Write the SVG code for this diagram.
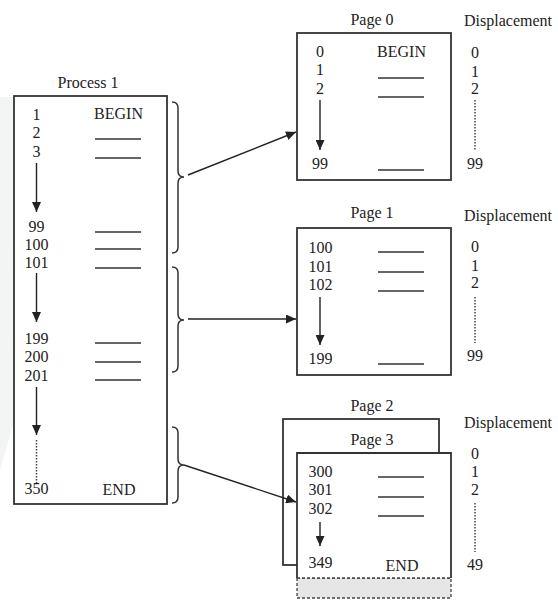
<svg xmlns="http://www.w3.org/2000/svg" width="558" height="605" viewBox="0 0 558 605">
  <style>
    .t{font-family:"Liberation Serif","Times New Roman",serif;font-size:16px;fill:#222}
    .m{text-anchor:middle}
    .box{fill:#fff;stroke:#333;stroke-width:1.8}
    .dash{stroke:#333;stroke-width:1.5}
    .ln{stroke:#222;stroke-width:1.4;fill:none}
    .dot{stroke:#444;stroke-width:1.5;stroke-dasharray:1.5 1.5;fill:none}
    .br{stroke:#333;stroke-width:1.5;fill:none}
  </style>
  <defs>
    <marker id="ah" markerUnits="userSpaceOnUse" markerWidth="11" markerHeight="9" refX="10" refY="4.5" orient="auto">
      <path d="M0,0 L10,4.5 L0,9 Z" fill="#222"/>
    </marker>
  </defs>
  <rect width="558" height="605" fill="#fff"/>
  <polygon points="0,97 13,97 13,425 0,470" fill="#f3f4f4"/>

  <g id="process1">
    <text class="t m" x="88" y="88">Process 1</text>
    <rect class="box" x="14" y="96" width="153" height="408"/>
    <g class="t m">
      <text x="36.5" y="120">1</text>
      <text x="36.5" y="138">2</text>
      <text x="36.5" y="157">3</text>
      <text x="36.5" y="232">99</text>
      <text x="36.5" y="250">100</text>
      <text x="36.5" y="268">101</text>
      <text x="36.5" y="344">199</text>
      <text x="36.5" y="362">200</text>
      <text x="36.5" y="381">201</text>
      <text x="36.5" y="494">350</text>
      <text x="118.5" y="119">BEGIN</text>
      <text x="119" y="495">END</text>
    </g>
    <g class="dash">
      <line x1="95" y1="139" x2="141" y2="139"/>
      <line x1="95" y1="158" x2="141" y2="158"/>
      <line x1="95" y1="232" x2="141" y2="232"/>
      <line x1="95" y1="249" x2="141" y2="249"/>
      <line x1="95" y1="268" x2="141" y2="268"/>
      <line x1="95" y1="343" x2="141" y2="343"/>
      <line x1="95" y1="362" x2="141" y2="362"/>
      <line x1="95" y1="380" x2="141" y2="380"/>
    </g>
    <line class="ln" x1="36.5" y1="163" x2="36.5" y2="212" marker-end="url(#ah)"/>
    <line class="ln" x1="36.5" y1="273" x2="36.5" y2="322" marker-end="url(#ah)"/>
    <line class="ln" x1="36.5" y1="387" x2="36.5" y2="435" marker-end="url(#ah)"/>
    <line class="dot" x1="36.5" y1="440" x2="36.5" y2="483"/>
    <path class="br" d="M172,102 Q178,102 178,108 L178,171 Q178,177 184,177 Q178,177 178,183 L178,247 Q178,253 172,253"/>
    <path class="br" d="M172,267 Q178,267 178,273 L178,314 Q178,320 184,320 Q178,320 178,326 L178,366 Q178,372 172,372"/>
    <path class="br" d="M172,427 Q178,427 178,433 L178,459 Q178,465 184,465 Q178,465 178,471 L178,497 Q178,503 172,503"/>
  </g>

  <g id="page0">
    <text class="t m" x="372" y="25">Page 0</text>
    <text class="t m" x="508" y="26">Displacement</text>
    <rect class="box" x="297" y="33" width="154" height="147"/>
    <g class="t m">
      <text x="320" y="57">0</text>
      <text x="320" y="75">1</text>
      <text x="320" y="94">2</text>
      <text x="320" y="169">99</text>
      <text x="401.5" y="57">BEGIN</text>
      <text x="475" y="58">0</text>
      <text x="475" y="77">1</text>
      <text x="475" y="94">2</text>
      <text x="475" y="169">99</text>
    </g>
    <g class="dash">
      <line x1="378" y1="78" x2="424" y2="78"/>
      <line x1="378" y1="97" x2="424" y2="97"/>
      <line x1="378" y1="170" x2="424" y2="170"/>
    </g>
    <line class="ln" x1="320" y1="100" x2="320" y2="150" marker-end="url(#ah)"/>
    <line class="dot" x1="475" y1="100" x2="475" y2="150"/>
  </g>

  <g id="page1">
    <text class="t m" x="372" y="218">Page 1</text>
    <text class="t m" x="508" y="221">Displacement</text>
    <rect class="box" x="297" y="228" width="154" height="147"/>
    <g class="t m">
      <text x="320.5" y="253">100</text>
      <text x="320.5" y="272">101</text>
      <text x="320.5" y="290">102</text>
      <text x="320.5" y="364">199</text>
      <text x="475" y="252">0</text>
      <text x="475" y="271">1</text>
      <text x="475" y="288">2</text>
      <text x="475" y="361">99</text>
    </g>
    <g class="dash">
      <line x1="378" y1="252" x2="424" y2="252"/>
      <line x1="378" y1="272" x2="424" y2="272"/>
      <line x1="378" y1="291" x2="424" y2="291"/>
      <line x1="378" y1="364" x2="424" y2="364"/>
    </g>
    <line class="ln" x1="320" y1="297" x2="320" y2="345" marker-end="url(#ah)"/>
    <line class="dot" x1="475" y1="297" x2="475" y2="343"/>
  </g>

  <g id="page2">
    <text class="t m" x="372" y="411">Page 2</text>
    <rect class="box" x="283" y="419" width="156" height="146"/>
  </g>

  <g id="page3">
    <text class="t m" x="508" y="428">Displacement</text>
    <rect x="297" y="578" width="154" height="20" fill="#e6e6e6" stroke="#444" stroke-width="1.3" stroke-dasharray="3 2"/>
    <path d="M297,578 L297,453 L451,453 L451,578" fill="#fff" stroke="#333" stroke-width="1.8"/>
    <rect x="298" y="454" width="152" height="124" fill="#fff"/>
    <line x1="297" y1="578" x2="451" y2="578" stroke="#444" stroke-width="1.3" stroke-dasharray="3 2"/>
    <text class="t m" x="372" y="445">Page 3</text>
    <g class="t m">
      <text x="320.5" y="477">300</text>
      <text x="320.5" y="495">301</text>
      <text x="320.5" y="514">302</text>
      <text x="320.5" y="568">349</text>
      <text x="402" y="571">END</text>
      <text x="475" y="459">0</text>
      <text x="475" y="477">1</text>
      <text x="475" y="495">2</text>
      <text x="475" y="570">49</text>
    </g>
    <g class="dash">
      <line x1="378" y1="477" x2="424" y2="477"/>
      <line x1="378" y1="497" x2="424" y2="497"/>
      <line x1="378" y1="516" x2="424" y2="516"/>
    </g>
    <line class="ln" x1="320" y1="522" x2="320" y2="546" marker-end="url(#ah)"/>
    <line class="dot" x1="475" y1="503" x2="475" y2="552"/>
  </g>

  <g id="connectors">
    <line class="ln" x1="188" y1="175" x2="296" y2="132" marker-end="url(#ah)"/>
    <line class="ln" x1="188" y1="319" x2="296" y2="319" marker-end="url(#ah)"/>
    <line class="ln" x1="184" y1="465" x2="296" y2="502" marker-end="url(#ah)"/>
  </g>
</svg>
